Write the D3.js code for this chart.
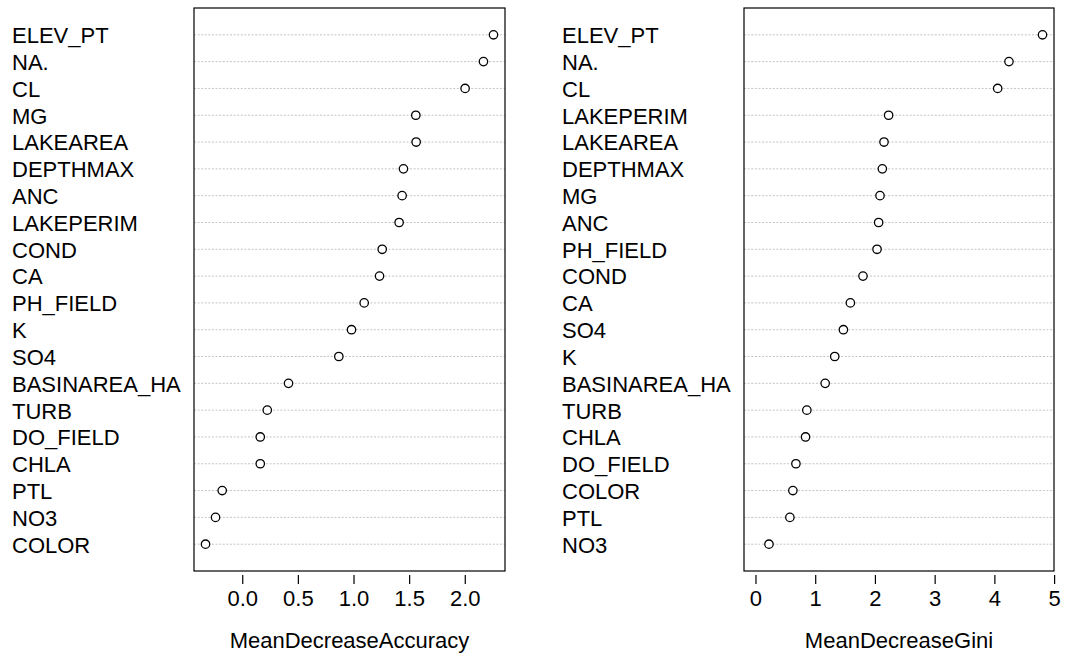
<!DOCTYPE html>
<html>
<head>
<meta charset="utf-8">
<script src="https://cdn.jsdelivr.net/npm/d3@7"></script>
<style>
  html, body { margin: 0; padding: 0; background: #fff; }
  svg { display: block; }
  text { font-family: "Liberation Sans", Arial, sans-serif; fill: #000; }
</style>
</head>
<body>
<svg id="chart" width="1065" height="656"></svg>
<script>
// variable importance, top to bottom as drawn
const accLabels = ["ELEV_PT", "NA.", "CL", "MG", "LAKEAREA", "DEPTHMAX", "ANC", "LAKEPERIM",
  "COND", "CA", "PH_FIELD", "K", "SO4", "BASINAREA_HA", "TURB", "DO_FIELD", "CHLA", "PTL", "NO3", "COLOR"];
const accValues = [2.258, 2.168, 2.003, 1.560, 1.563, 1.449, 1.437, 1.410,
  1.258, 1.234, 1.096, 0.982, 0.868, 0.416, 0.225, 0.162, 0.162, -0.180, -0.240, -0.330];

const giniLabels = ["ELEV_PT", "NA.", "CL", "LAKEPERIM", "LAKEAREA", "DEPTHMAX", "MG", "ANC",
  "PH_FIELD", "COND", "CA", "SO4", "K", "BASINAREA_HA", "TURB", "CHLA", "DO_FIELD", "COLOR", "PTL", "NO3"];
const giniValues = [4.806, 4.244, 4.055, 2.229, 2.152, 2.124, 2.085, 2.062,
  2.035, 1.800, 1.589, 1.472, 1.327, 1.167, 0.860, 0.838, 0.677, 0.626, 0.576, 0.226];

const accTicks = [0, 0.5, 1, 1.5, 2];
const giniTicks = [0, 1, 2, 3, 4, 5];

const svg = d3.select("#chart");
const FONT = 22;

const plotTop = 8, plotBottom = 571;

// R-style 4% padding on the range
const padRange = (lo, hi) => {
  const d = (hi - lo) * 0.04;
  return [lo - d, hi + d];
};

const panel = (opts) => {
  const { labels, values, ticks, fmt, xmin, boxL, boxR, labelX, title } = opts;
  const n = labels.length;
  const lo = xmin != null ? xmin : d3.min(values);
  const x = d3.scaleLinear().domain(padRange(lo, d3.max(values))).range([boxL, boxR]);
  const y = d3.scaleLinear().domain([0, n + 1]).range([plotBottom, plotTop]);
  const rowY = (d, i) => y(n - i);

  const g = svg.append("g");

  g.selectAll("line.grid")
    .data(labels)
    .join("line")
    .attr("class", "grid")
    .attr("x1", boxL).attr("x2", boxR)
    .attr("y1", rowY).attr("y2", rowY)
    .attr("stroke", "#c4c4c4")
    .attr("stroke-width", 1)
    .attr("stroke-dasharray", "2,1.6");

  g.selectAll("text.lab")
    .data(labels)
    .join("text")
    .attr("class", "lab")
    .attr("x", labelX)
    .attr("y", rowY)
    .attr("dy", "0.38em")
    .attr("font-size", FONT)
    .text(d => d);

  g.selectAll("circle")
    .data(values)
    .join("circle")
    .attr("cx", d => x(d))
    .attr("cy", rowY)
    .attr("r", 4.2)
    .attr("fill", "#fff")
    .attr("stroke", "#000")
    .attr("stroke-width", 1.3);

  g.append("rect")
    .attr("x", boxL).attr("y", plotTop)
    .attr("width", boxR - boxL).attr("height", plotBottom - plotTop)
    .attr("fill", "none")
    .attr("stroke", "#000")
    .attr("stroke-width", 1.2);

  const axis = g.append("g")
    .attr("transform", `translate(0,${plotBottom + 4})`)
    .call(d3.axisBottom(x).tickValues(ticks).tickFormat(fmt).tickSize(9).tickPadding(6));
  axis.select(".domain").remove();
  axis.selectAll(".tick line").attr("stroke", "#000").attr("stroke-width", 1.2);
  axis.selectAll(".tick text")
    .attr("font-size", FONT)
    .attr("font-family", "Liberation Sans, Arial, sans-serif")
    .attr("fill", "#000");

  g.append("text")
    .attr("x", (boxL + boxR) / 2)
    .attr("y", 648)
    .attr("text-anchor", "middle")
    .attr("font-size", FONT)
    .text(title);
};

panel({
  labels: accLabels, values: accValues, ticks: accTicks, fmt: d3.format(".1f"),
  xmin: null, boxL: 194, boxR: 505, labelX: 12, title: "MeanDecreaseAccuracy"
});

panel({
  labels: giniLabels, values: giniValues, ticks: giniTicks, fmt: d3.format("d"),
  xmin: 0, boxL: 744, boxR: 1054, labelX: 562, title: "MeanDecreaseGini"
});
</script>
</body>
</html>
